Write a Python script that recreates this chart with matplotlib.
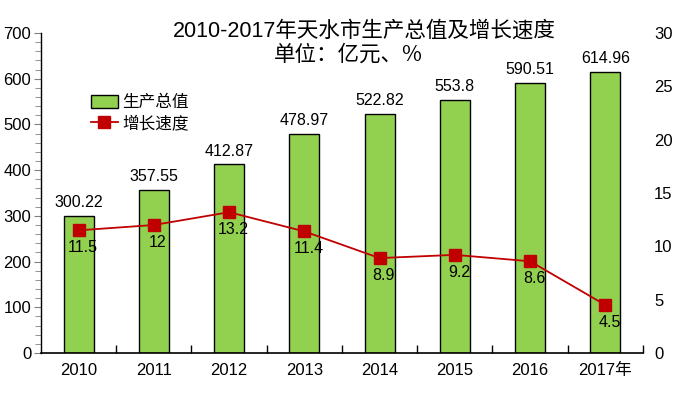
import numpy as np
import matplotlib.pyplot as plt
from matplotlib.ticker import MultipleLocator

plt.rcParams['font.family'] = ['Liberation Sans', 'Noto Sans CJK SC', 'DejaVu Sans']

# 数据
years = ["2010", "2011", "2012", "2013", "2014", "2015", "2016", "2017年"]
gdp = [300.22, 357.55, 412.87, 478.97, 522.82, 553.8, 590.51, 614.96]
growth = [11.5, 12, 13.2, 11.4, 8.9, 9.2, 8.6, 4.5]
gdp_labels = ["300.22", "357.55", "412.87", "478.97", "522.82", "553.8", "590.51", "614.96"]
growth_labels = ["11.5", "12", "13.2", "11.4", "8.9", "9.2", "8.6", "4.5"]

fig = plt.figure(figsize=(6.75, 3.95), dpi=100)
ax = fig.add_axes([0.0607, 0.1063, 0.8919, 0.8102])
ax2 = ax.twinx()

x = np.arange(len(years))
bars = ax.bar(x, gdp, width=0.4, color="#92D050", edgecolor="black",
              linewidth=1, label="生产总值", zorder=2)
for xi, v, t in zip(x, gdp, gdp_labels):
    ax.annotate(t, (xi, v), xytext=(0, 4), textcoords="offset points",
                ha="center", va="bottom", fontsize=11.5)

ax.set_xlim(-0.5, len(years) - 0.5)
ax.set_ylim(0, 700)
ax.yaxis.set_major_locator(MultipleLocator(100))
ax.yaxis.set_minor_locator(MultipleLocator(20))
ax.tick_params(axis="y", which="major", length=5, color="#808080", labelsize=12, pad=2)
ax.tick_params(axis="y", which="minor", length=4, color="#808080")
ax.set_xticks(x)
ax.set_xticklabels(years, fontsize=12)
ax.tick_params(axis="x", which="major", length=0, pad=7)
ax.set_xticks(np.arange(0.5, len(years) - 0.5 + 0.01, 1.0), minor=True)
ax.tick_params(axis="x", which="minor", direction="in", length=6, width=1, color="black")
ax.spines["top"].set_visible(False)
ax.spines["right"].set_visible(False)
ax.spines["bottom"].set_linewidth(1.2)
ax.spines["left"].set_linewidth(1.0)

line, = ax2.plot(x, growth, color="#C00000", linewidth=1.3, marker="s",
                 markersize=8, markerfacecolor="#C00000",
                 markeredgecolor="#C00000", label="增长速度", zorder=3)
for xi, v, t in zip(x, growth, growth_labels):
    ax2.annotate(t, (xi, v), xytext=(3, -7), textcoords="offset points",
                 ha="center", va="top", fontsize=11.5)
ax2.set_ylim(0, 30)
ax2.yaxis.set_major_locator(MultipleLocator(5))
ax2.tick_params(axis="y", length=0, labelsize=12, pad=8)
for s in ["top", "right", "left", "bottom"]:
    ax2.spines[s].set_visible(False)

fig.text(0.539, 0.921, "2010-2017年天水市生产总值及增长速度", ha="center", va="center",
         fontsize=15.5)
fig.text(0.516, 0.862, "单位：亿元、%", ha="center", va="center", fontsize=15.5,
         family=['Noto Sans CJK SC', 'DejaVu Sans'])

ax.legend([bars, line], ["生产总值", "增长速度"], loc="upper left",
          bbox_to_anchor=(0.058, 0.854), frameon=False, fontsize=12,
          handlelength=1.6, handleheight=0.8, handletextpad=0.3,
          labelspacing=0.3)

fig.savefig("out.png", dpi=100)
